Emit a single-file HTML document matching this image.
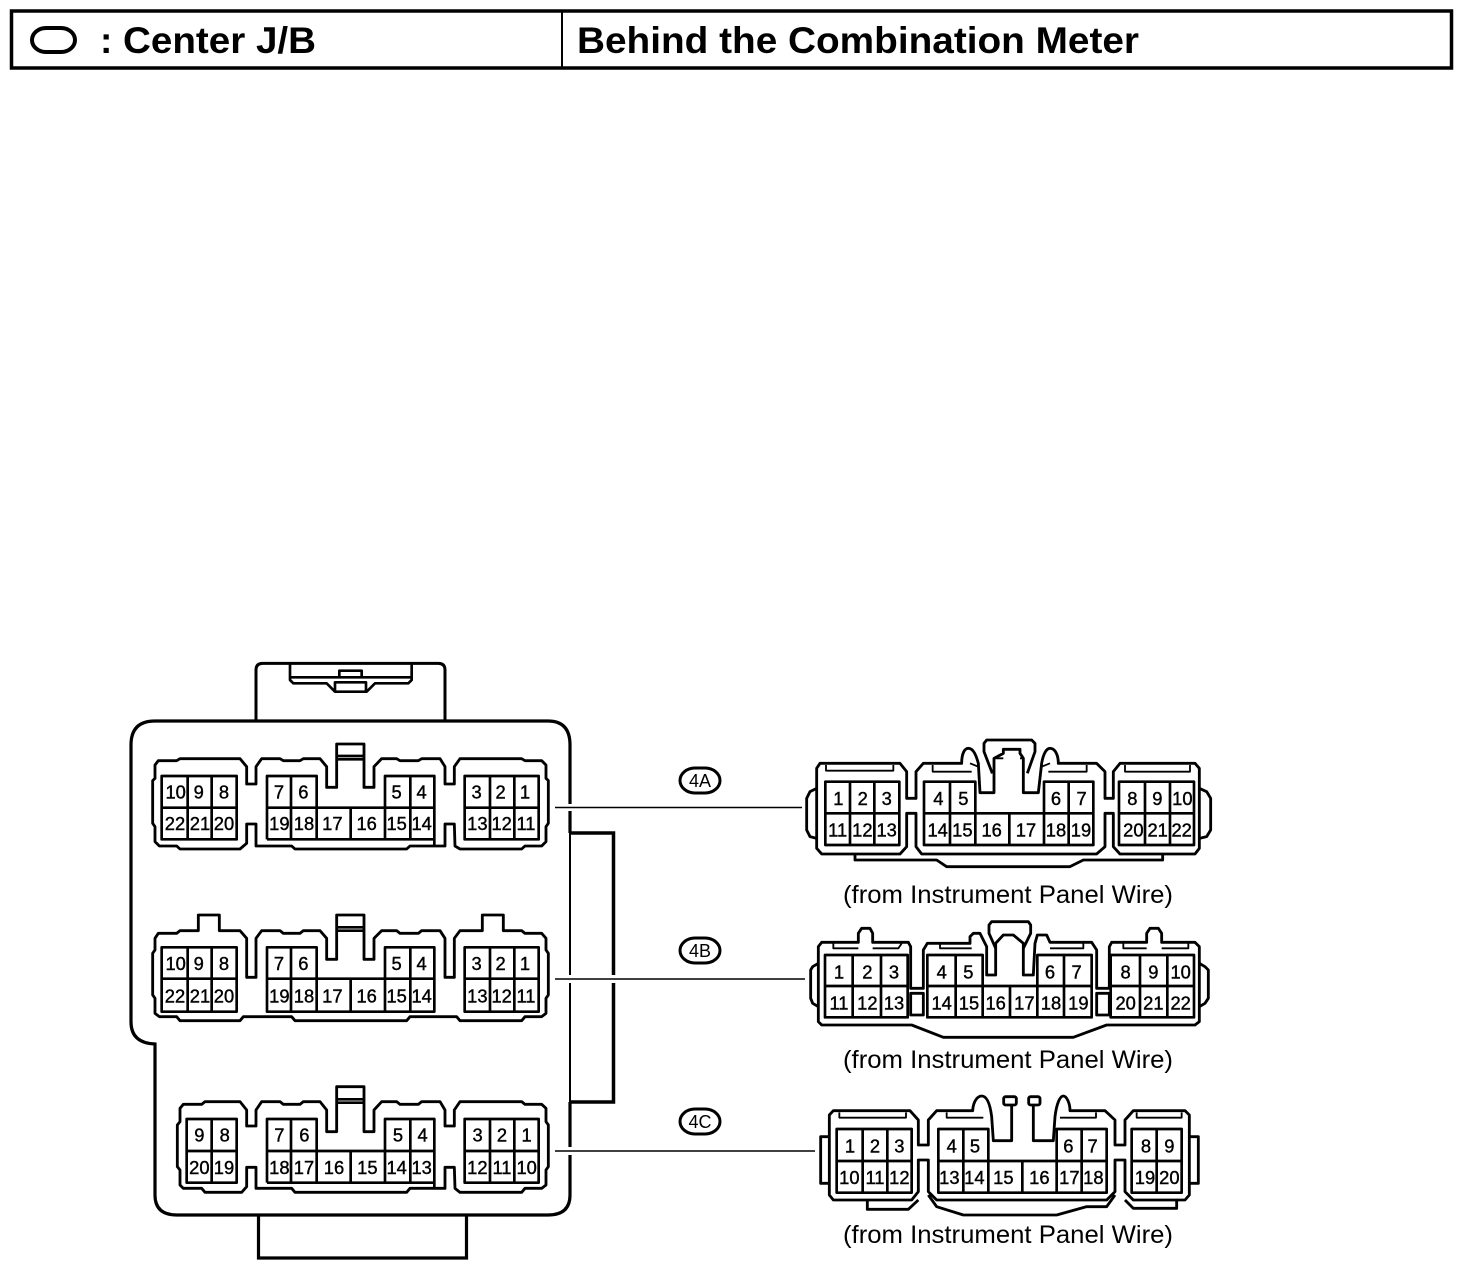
<!DOCTYPE html>
<html><head><meta charset="utf-8"><style>
html,body{margin:0;padding:0;background:#fff}
svg{display:block}
text{font-family:"Liberation Sans",sans-serif;fill:#000}
.c path,.c rect{fill:none;stroke:#000;stroke-width:8.5;stroke-linejoin:round}
.c path.t{stroke-width:5.5}
.c path.g{stroke-width:8}
.c text{font-size:55px;text-anchor:middle;stroke:#000;stroke-width:1.2}
</style></head><body>
<svg width="1472" height="1268" viewBox="0 0 1472 1268" xmlns="http://www.w3.org/2000/svg">
<rect width="1472" height="1268" fill="#fff"/>
<!-- header -->
<rect x="11.500" y="11" width="1440" height="57" fill="none" stroke="#000" stroke-width="3.500"/>
<line x1="562" y1="11" x2="562" y2="68" stroke="#000" stroke-width="2"/>
<rect x="32" y="28" width="43" height="24" rx="14" ry="12" fill="none" stroke="#000" stroke-width="4"/>
<text x="100" y="53" font-size="37" font-weight="700">:</text>
<text x="123" y="53" font-size="37" font-weight="700" textLength="193" lengthAdjust="spacingAndGlyphs">Center J/B</text>
<text x="577" y="53" font-size="37" font-weight="700" textLength="562" lengthAdjust="spacingAndGlyphs">Behind the Combination Meter</text>

<!-- body -->
<g class="c" transform="translate(120,650) scale(.33333)">
<path d="M408,214V60Q408,40 428,40H955Q975,40 975,60V214" style="stroke-width:9"/>
<path class="t" d="M408,214H975"/>
<path class="g" d="M510,42V90L520,100H620L645,125H740L765,100H865L875,90V42M510,82H875M658,82V62H725V82M645,125V97H738V125"/>
</g>
<path d="M256,721H155Q131,721 131,745V1022Q131,1043 155,1044V1195Q155,1215 177,1215H548Q570,1215 570,1195V1102" fill="none" stroke="#000" stroke-width="3.200"/>
<path d="M256,721H548Q570,721 570,745V833" fill="none" stroke="#000" stroke-width="3.200"/>
<path d="M570,833V1102" fill="none" stroke="#000" stroke-width="2"/>
<path d="M570,833H613.500V1102H570" fill="none" stroke="#000" stroke-width="3.500"/>
<path d="M258.500,1215V1258H466.500V1215" fill="none" stroke="#000" stroke-width="3.200"/>

<!-- leader lines -->
<rect x="565" y="804" width="10" height="7" fill="#fff"/>
<rect x="565" y="975" width="10" height="8" fill="#fff"/>
<rect x="608" y="975" width="11" height="8" fill="#fff"/>
<rect x="565" y="1147" width="10" height="8" fill="#fff"/>
<path d="M555,807.500H802M555,979H805M555,1151H815" stroke="#000" stroke-width="1.500" fill="none"/>

<!-- tags -->
<g fill="none" stroke="#000" stroke-width="3">
<rect x="680" y="768" width="40" height="25" rx="15" ry="12.500"/>
<rect x="680" y="938" width="40" height="25" rx="15" ry="12.500"/>
<rect x="680" y="1109" width="40" height="25" rx="15" ry="12.500"/>
</g>
<g font-size="18" text-anchor="middle">
<text x="700" y="787">4A</text>
<text x="700" y="957">4B</text>
<text x="700" y="1128">4C</text>
</g>

<!-- Left connector 1 -->
<g class="c" transform="translate(120,650) scale(.33333)">
<path d="M105,345L115,332H170L180,326H360L380,350V402H408V350L425,326H480L490,332H540L550,326H600L620,350V412H650V282H732V412H762V350L785,326H830L840,332H895L905,326H960L975,350V402H1003V350L1020,326H1205L1215,332H1265L1278,345V385L1285,392V520L1278,530V575L1265,588H1215L1205,597H1020L1005,588L1003,522H975V588H870L860,597H525L515,588H408V522H380V580L360,597H180L170,588H118L105,575V530L98,520V392L105,385Z"/>
<path class="g" d="M650,318H732M650,328H732"/>
<path class="g" d="M125,378H350V568H125ZM125,473H350M203,378V568M275,378V568"/>
<path class="g" d="M441,568V378H590V473H795V378H943V590M441,568H943M441,473H590M795,473H943M513,378V568M590,473V568M692,473V568M795,473V568M871,378V568"/>
<path class="g" d="M1034,378H1256V568H1034ZM1034,473H1256M1110,378V568M1183,378V568"/>
<text x="167" y="445">10</text><text x="236" y="445">9</text><text x="312" y="445">8</text>
<text x="477" y="445">7</text><text x="550" y="445">6</text><text x="830" y="445">5</text><text x="905" y="445">4</text>
<text x="1070" y="445">3</text><text x="1142" y="445">2</text><text x="1215" y="445">1</text>
<text x="165" y="540">22</text><text x="240" y="540">21</text><text x="312" y="540">20</text>
<text x="478" y="540">19</text><text x="552" y="540">18</text><text x="637" y="540">17</text><text x="740" y="540">16</text><text x="830" y="540">15</text><text x="905" y="540">14</text>
<text x="1072" y="540">13</text><text x="1145" y="540">12</text><text x="1218" y="540">11</text>
</g>

<!-- Left connector 2 -->
<g class="c" transform="translate(120,870) scale(.33333)">
<path d="M105,205L115,190H170L180,182H235V135H298V182H360L380,205V322H408V205L425,182H480L490,190H540L550,182H600L620,205V268H650V135H732V268H762V205L785,182H830L840,190H895L905,182H960L975,205V322H1003V205L1020,182H1087V135H1150V182H1205L1215,190H1265L1278,205V240L1285,250V375L1278,385V430L1265,440H1215L1205,452H1020L1010,440H870L860,452H525L515,440H370L360,452H180L170,440H118L105,430V385L98,375V250L105,240Z"/>
<path class="g" d="M650,172H732M650,182H732"/>
<path class="g" d="M125,232H350V425H125ZM125,326H350M203,232V425M275,232V425"/>
<path class="g" d="M441,425V232H590V326H795V232H943V425ZM441,326H590M795,326H943M513,232V425M590,326V425M692,326V425M795,326V425M871,232V425"/>
<path class="g" d="M1034,232H1256V425H1034ZM1034,326H1256M1110,232V425M1183,232V425"/>
<text x="167" y="300">10</text><text x="236" y="300">9</text><text x="312" y="300">8</text>
<text x="477" y="300">7</text><text x="550" y="300">6</text><text x="830" y="300">5</text><text x="905" y="300">4</text>
<text x="1070" y="300">3</text><text x="1142" y="300">2</text><text x="1215" y="300">1</text>
<text x="165" y="397">22</text><text x="240" y="397">21</text><text x="312" y="397">20</text>
<text x="478" y="397">19</text><text x="552" y="397">18</text><text x="637" y="397">17</text><text x="740" y="397">16</text><text x="830" y="397">15</text><text x="905" y="397">14</text>
<text x="1072" y="397">13</text><text x="1145" y="397">12</text><text x="1218" y="397">11</text>
</g>

<!-- Left connector 3 -->
<g class="c" transform="translate(120,1070) scale(.33333)">
<path d="M180,115L190,103H245L255,95H360L380,120V168H408V120L425,95H480L490,103H540L550,95H600L620,120V185H650V50H732V185H762V120L785,95H830L840,103H895L905,95H960L975,120V168H1003V120L1020,95H1205L1215,103H1265L1278,115V155L1285,165V290L1278,300V345L1265,355H1215L1205,367H1020L1005,355L1003,292H975V355H870L860,367H525L515,355H408V292H380V350L365,367H255L245,355H190L180,345V300L172,290V165L180,155Z"/>
<path class="g" d="M650,88H732M650,98H732"/>
<path class="g" d="M200,147H350V338H200ZM200,243H350M275,147V338"/>
<path class="g" d="M441,338V147H590V243H795V147H943V355M441,338H943M441,243H590M795,243H943M513,147V338M590,243V338M692,243V338M795,243V338M871,147V338"/>
<path class="g" d="M1034,147H1256V338H1034ZM1034,243H1256M1110,147V338M1183,147V338"/>
<text x="238" y="215">9</text><text x="314" y="215">8</text>
<text x="478" y="215">7</text><text x="553" y="215">6</text><text x="834" y="215">5</text><text x="908" y="215">4</text>
<text x="1073" y="215">3</text><text x="1146" y="215">2</text><text x="1220" y="215">1</text>
<text x="238" y="312">20</text><text x="312" y="312">19</text>
<text x="478" y="312">18</text><text x="552" y="312">17</text><text x="642" y="312">16</text><text x="742" y="312">15</text><text x="830" y="312">14</text><text x="905" y="312">13</text>
<text x="1072" y="312">12</text><text x="1146" y="312">11</text><text x="1220" y="312">10</text>
</g>

<!-- Right connector 4A -->
<g class="c" transform="translate(790,730) scale(.33333)">
<path d="M80,115L90,100H330L350,125V205H378V125L400,100H515C515,68 525,55 535,55C550,55 558,75 565,100L570,188H612V85L640,70V58H690V70L700,85V188H745L755,100C760,70 770,55 780,55C795,55 805,75 805,100H920L945,125V205H970V125L990,100H1215L1228,115V355L1215,372H990L970,350V250H945V350L920,372H395L378,350V250H350V350L330,372H95L80,355Z"/>
<path d="M607,130L582,65V40L590,30H725L735,40V65L712,130"/>
<path class="t" d="M540,100L565,110M755,110L780,100M612,85H640M690,85H700"/>
<path class="t" d="M108,105V122H310V105M428,105V125H545M775,125H890V105M1005,105V125H1200V105"/>
<path d="M80,175L60,185L50,205V300L60,320L80,325M1228,175L1250,185L1262,205V300L1250,320L1228,325"/>
<path d="M195,372V390H440L470,410H840L880,390H1118V372"/>
<path class="g" d="M106,155H328V345H106ZM106,250H328M180,155V345M253,155V345"/>
<path class="g" d="M402,345V155H556V250H762V155H910V345ZM402,250H556M762,250H910M480,155V345M556,250V345M658,250V345M762,250V345M836,155V345"/>
<path class="g" d="M987,155H1212V345H987ZM987,250H1212M1065,155V345M1140,155V345"/>
<text x="145" y="225">1</text><text x="218" y="225">2</text><text x="290" y="225">3</text>
<text x="445" y="225">4</text><text x="520" y="225">5</text><text x="798" y="225">6</text><text x="875" y="225">7</text>
<text x="1027" y="225">8</text><text x="1102" y="225">9</text><text x="1177" y="225">10</text>
<text x="143" y="320">11</text><text x="217" y="320">12</text><text x="290" y="320">13</text>
<text x="443" y="320">14</text><text x="517" y="320">15</text><text x="605" y="320">16</text><text x="708" y="320">17</text><text x="798" y="320">18</text><text x="873" y="320">19</text>
<text x="1030" y="320">20</text><text x="1103" y="320">21</text><text x="1175" y="320">22</text>
</g>

<!-- Right connector 4B -->
<g class="c" transform="translate(790,910) scale(.33333)">
<path d="M85,110L95,97H205V70L215,55H240L248,70V97H355L362,110V235H400V120L412,100H540V80L550,70H570L585,100L590,110V195H617V100L640,75H670L700,100V195H730L735,100L742,75H770L780,97H905L920,120V235H958V110L965,97H1070V70L1080,55H1105L1115,70V97H1215L1228,110V335L1215,345H950L850,382H460L365,345H95L85,335Z"/>
<path d="M617,115L597,70V45L605,35H715L722,45V70L700,115"/>
<path class="t" d="M130,100V115H205M248,115H325L335,100M450,100V115H545M780,115H880V100M1000,100V115H1070M1115,115H1195V100"/>
<path d="M85,160L68,170L62,180V265L68,280L85,290M1228,160L1245,170L1255,180V265L1245,280L1228,290"/>
<rect x="362" y="250" width="38" height="65"/><rect x="920" y="250" width="38" height="65"/>
<path class="g" d="M105,135H353V322H105ZM105,228H353M188,135V322M273,135V322"/>
<path class="g" d="M412,322V135H578V228H742V135H905V322ZM412,228H578M742,228H905M497,135V322M578,228V322M660,228V322M742,228V322M822,135V322"/>
<path class="g" d="M962,135H1212V322H962ZM962,228H1212M1050,135V322M1132,135V322"/>
<text x="147" y="205">1</text><text x="232" y="205">2</text><text x="312" y="205">3</text>
<text x="455" y="205">4</text><text x="535" y="205">5</text><text x="780" y="205">6</text><text x="860" y="205">7</text>
<text x="1007" y="205">8</text><text x="1090" y="205">9</text><text x="1172" y="205">10</text>
<text x="147" y="298">11</text><text x="232" y="298">12</text><text x="312" y="298">13</text>
<text x="455" y="298">14</text><text x="537" y="298">15</text><text x="617" y="298">16</text><text x="703" y="298">17</text><text x="783" y="298">18</text><text x="865" y="298">19</text>
<text x="1007" y="298">20</text><text x="1090" y="298">21</text><text x="1172" y="298">22</text>
</g>

<!-- Right connector 4C -->
<g class="c" transform="translate(790,1080) scale(.33333)">
<path d="M730,75V182H790L795,110C800,70 810,48 820,48C830,48 840,70 840,92H945L975,120V195H1005V120L1030,92H1185L1198,105V345L1185,360H1030L1005,335V240H975V335L950,360H440L415,335V240H385V335L365,360H130L118,345V105L130,92H360L385,120V195H415V120L440,92H548C550,60 565,48 575,48C590,48 600,70 605,110L610,182H665V75"/>
<rect x="641" y="50" width="38" height="25" rx="6"/><rect x="716" y="50" width="34" height="25" rx="6"/>
<path class="t" d="M148,97V113H348V97M470,97V113H580M810,113H918V97M1040,97V113H1175V97"/>
<path d="M232,360V388H355L385,360M415,345L440,380L520,405H800L890,380H950L975,345M1005,360L1030,385H1160V360"/>
<path d="M118,170H92V310H118M1198,170H1225V310H1198"/>
<path class="g" d="M140,147H365V338H140ZM140,243H365M218,147V338M292,147V338"/>
<path class="g" d="M445,338V147H595V243H800V147H950V338ZM445,243H595M800,243H950M520,147V338M595,243V338M697,243V338M800,243V338M875,147V338"/>
<path class="g" d="M1025,147H1175V338H1025ZM1025,243H1175M1100,147V338"/>
<text x="180" y="217">1</text><text x="255" y="217">2</text><text x="328" y="217">3</text>
<text x="485" y="217">4</text><text x="555" y="217">5</text><text x="835" y="217">6</text><text x="908" y="217">7</text>
<text x="1068" y="217">8</text><text x="1138" y="217">9</text>
<text x="178" y="312">10</text><text x="255" y="312">11</text><text x="328" y="312">12</text>
<text x="478" y="312">13</text><text x="553" y="312">14</text><text x="640" y="312">15</text><text x="748" y="312">16</text><text x="838" y="312">17</text><text x="910" y="312">18</text>
<text x="1065" y="312">19</text><text x="1138" y="312">20</text>
</g>

<!-- captions -->
<text x="843" y="903" font-size="25" textLength="330" lengthAdjust="spacingAndGlyphs">(from Instrument Panel Wire)</text>
<text x="843" y="1068" font-size="25" textLength="330" lengthAdjust="spacingAndGlyphs">(from Instrument Panel Wire)</text>
<text x="843" y="1243" font-size="25" textLength="330" lengthAdjust="spacingAndGlyphs">(from Instrument Panel Wire)</text>
</svg>
</body></html>
